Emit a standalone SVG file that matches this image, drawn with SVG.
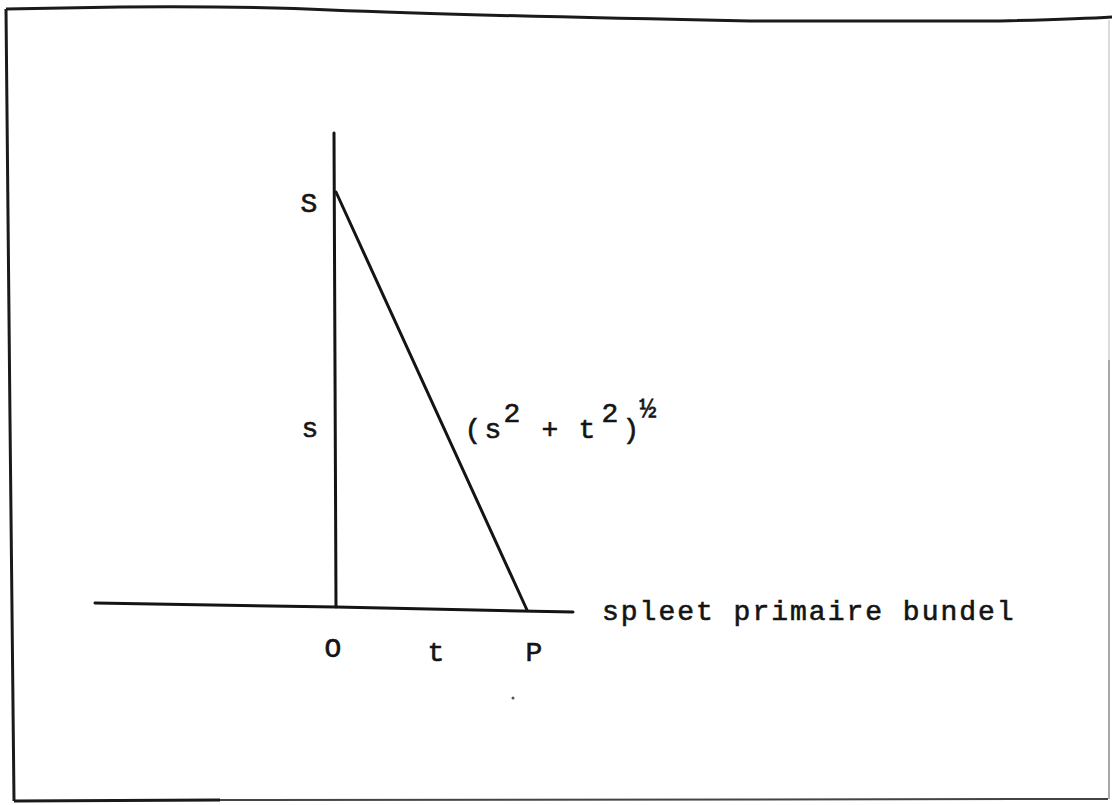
<svg xmlns="http://www.w3.org/2000/svg" width="1112" height="805" viewBox="0 0 1112 805">
  <style>
    .ln { fill: none; stroke: #141414; stroke-width: 3; stroke-linecap: round; stroke-linejoin: round; }
    .frame { fill: none; stroke: #1a1a1a; stroke-width: 3; stroke-linejoin: round; }
    .tw { font-family: "Liberation Mono", "DejaVu Sans Mono", monospace; font-size: 28px; fill: #141414; stroke: #141414; stroke-width: 0.6; }
    .c { text-anchor: middle; }
  </style>
  <rect x="0" y="0" width="1112" height="805" fill="#ffffff"/>

  <g id="frame">
    <path class="frame" d="M6,9 L120,7 Q250,6 330,10 C450,15 600,18 750,21 L1000,21 Q1080,19 1112,17"/>
    <path class="frame" d="M6,9 L10,420 L14,801"/>
    <path class="frame" d="M14,801 L220,800"/>
    <path d="M220,800 L1108,799" fill="none" stroke="#444444" stroke-width="2"/>
    <path d="M1109,20 L1109,360" fill="none" stroke="#cfcfcf" stroke-width="1.5"/>
    <path d="M1109,360 L1109,799" fill="none" stroke="#8a8a8a" stroke-width="1.5"/>
  </g>

  <g id="connectors">
    <path id="axis-vertical" class="ln" d="M334,133 L336,607"/>
    <path id="axis-horizontal" class="ln" d="M95,603 L336,607 L573,612"/>
    <path id="hypotenuse" class="ln" d="M336,192 L527,610"/>
  </g>

  <g id="labels">
    <g id="label-S"><text class="tw c" x="309" y="212">S</text></g>
    <g id="label-s"><text class="tw c" x="310" y="437">s</text></g>
    <g id="label-O"><text class="tw c" x="333" y="657">O</text></g>
    <g id="label-t"><text class="tw c" x="436" y="661">t</text></g>
    <g id="label-P"><text class="tw c" x="534" y="661">P</text></g>
    <g id="label-slit"><text class="tw" x="602" y="620" letter-spacing="2">spleet primaire bundel</text></g>
    <g id="label-formula">
      <text class="tw c" x="473" y="438">(</text>
      <text class="tw c" x="493" y="438">s</text>
      <text class="tw c" x="512" y="422">2</text>
      <text class="tw c" x="550" y="438">+</text>
      <text class="tw c" x="587" y="438">t</text>
      <text class="tw c" x="610" y="422">2</text>
      <text class="tw c" x="631" y="438">)</text>
      <text class="tw c" x="648" y="417" font-size="24">½</text>
    </g>
  </g>
  <circle cx="513" cy="698" r="1.5" fill="#555"/>
</svg>
